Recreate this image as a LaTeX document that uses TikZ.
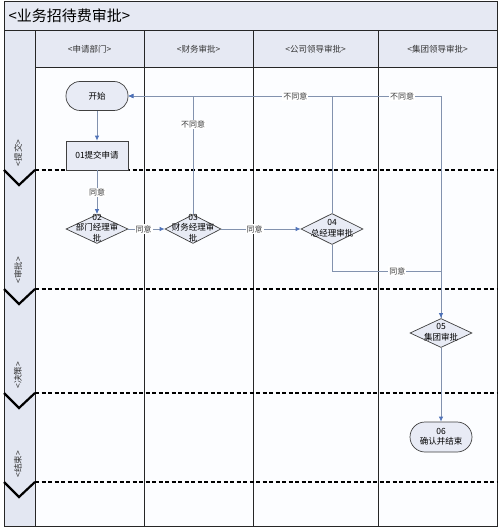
\documentclass[tikz,border=0pt]{standalone}
\usepackage{fontspec}
\newfontfamily\cjk{Noto Sans CJK SC}
\usetikzlibrary{shapes.geometric,arrows.meta}
\definecolor{panefill}{HTML}{E6E9F3}
\definecolor{sidefill}{HTML}{E3E7F2}
\definecolor{nodefill}{HTML}{E8EBF5}
\definecolor{linecol}{HTML}{8292AE}
\definecolor{arrowcol}{HTML}{4F72B8}
\definecolor{lanefill}{HTML}{FCFDFF}
\begin{document}
\begin{tikzpicture}[x=1pt,y=-1pt,font=\cjk,
  hdr/.style={font=\cjk\fontsize{8.5}{10}\selectfont, text=black!80},
  phase/.style={rotate=90,font=\cjk\fontsize{8.5}{10}\selectfont, text=black!80},
  terminal/.style={draw=black!75, fill=nodefill, line width=0.7pt, rounded corners=14pt, minimum width=62pt, minimum height=29pt, inner sep=0pt, font=\cjk\fontsize{8.5}{11}\selectfont, align=center},
  procbox/.style={draw=black!75, fill=nodefill, line width=0.7pt, minimum width=62pt, minimum height=29pt, inner sep=0pt, font=\cjk\fontsize{8.5}{11}\selectfont},
  decision/.style={diamond, draw=black!75, fill=nodefill, line width=0.7pt, minimum width=62pt, minimum height=29pt, inner sep=0pt},
  dtext/.style={font=\cjk\fontsize{8.5}{10.5}\selectfont, align=center, inner sep=0pt},
  flow/.style={draw=linecol, line width=0.8pt, -{Latex[length=5pt,width=4.5pt,color=arrowcol,fill=arrowcol]}},
  lbl/.style={fill=white, inner sep=1pt, font=\cjk\fontsize{8}{9}\selectfont, text=black!75},
  sep/.style={black, line width=1.8pt, dash pattern=on 4pt off 2.5pt},
  chev/.style={black, line width=2.2pt, line join=miter},
  frame/.style={black!85, line width=1pt}
]
\useasboundingbox (0,0) rectangle (500,529);
% backgrounds
\fill[lanefill] (35,68) rectangle (497,526);
\fill[panefill] (4,2) rectangle (497,31);
\fill[panefill] (35,31) rectangle (497,68);
\fill[sidefill] (4,31) rectangle (35,526);
% grid
\draw[frame] (4,2) rectangle (497,526);
\draw[frame] (4,31) -- (497,31);
\draw[frame] (35,68) -- (497,68);
\foreach \xx in {35,144,253,378} \draw[frame] (\xx,31) -- (\xx,526);
% title and headers
\node[anchor=west, font=\cjk\fontsize{15}{17}\selectfont] (title) at (5,16) {<业务招待费审批>};
\node[hdr] (h1) at (89.5,49) {<申请部门>};
\node[hdr] (h2) at (198.5,49) {<财务审批>};
\node[hdr] (h3) at (315.5,49) {<公司领导审批>};
\node[hdr] (h4) at (437.5,49) {<集团领导审批>};
% phase labels
\node[phase] (p1) at (18,153) {<提交>};
\node[phase] (p2) at (18,270) {<审批>};
\node[phase] (p3) at (18,375) {<决策>};
\node[phase] (p4) at (18,464) {<结束>};
% separators
\foreach \yy in {170,289,393,482} {
  \draw[sep] (35,\yy) -- (497,\yy);
  \draw[chev] (4,\yy) -- (19,\yy+15) -- (35,\yy);
}
% nodes
\node[terminal] (start) at (97,96) {开始};
\node[procbox] (n01) at (97,155.5) {01提交申请};
\node[decision] (n02) at (97,229) {};
\node[decision, minimum width=56pt] (n03) at (193,229) {};
\node[decision, minimum height=31pt] (n04) at (332,229) {};
\node[decision] (n05) at (441,333) {};
\node[terminal, minimum height=30pt, rounded corners=15pt] (n06) at (441,437) {};
% connectors
\draw[flow] (n05.north) |- (start.east);
\draw[flow] (n04.north) |- node[lbl,pos=0.59]{不同意} (start.east);
\draw[flow] (n03.north) |- node[lbl,pos=0.38]{不同意} (start.east);
\node[lbl] (lb5) at (402,96) {不同意};
\draw[flow] (start) -- (n01);
\draw[flow] (n01) -- node[lbl]{同意} (n02);
\draw[flow] (n02) -- node[lbl,pos=0.42]{同意} (n03);
\draw[flow] (n03) -- node[lbl,pos=0.42]{同意} (n04);
\coordinate (b4) at (332,271);
\draw[flow] (n04.south) -- (b4) -| node[lbl,pos=0.3]{同意} (n05.north);
\draw[flow] (n05) -- (n06);
% node texts
\node[dtext] (t02) at (97,228) {02\\部门经理审\\批};
\node[dtext] (t03) at (193,228) {03\\财务经理审\\批};
\node[dtext] (t04) at (332,228) {04\\总经理审批};
\node[dtext] (t05) at (441,332.5) {05\\集团审批};
\node[dtext] (t06) at (441,437) {06\\确认并结束};
\end{tikzpicture}
\end{document}
